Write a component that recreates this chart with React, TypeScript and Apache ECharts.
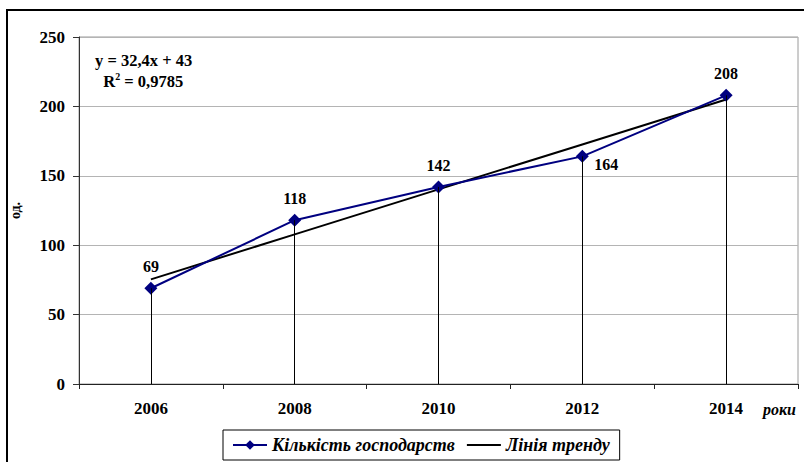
import React, { useEffect, useRef } from "react";
import * as echarts from "echarts";

const years = ["2006", "2008", "2010", "2012", "2014"];
const farms = [69, 118, 142, 164, 208];
const trendSlope = 32.4;
const trendIntercept = 43;
const trend = [75.4, 107.8, 140.2, 172.6, 205];
const yTicks = [0, 50, 100, 150, 200, 250];

const FONT = "'Liberation Serif', 'Times New Roman', serif";

export default function App() {
  const ref = useRef<HTMLDivElement>(null);
  useEffect(() => {
    if (!ref.current) return;
    const chart = echarts.init(ref.current, undefined, { renderer: "svg" });
    const dropLines = years.map((y, i) => [
      { coord: [y, 0] },
      { coord: [y, farms[i]] },
    ]);
    chart.setOption({
      animation: false,
      backgroundColor: "#fff",
      textStyle: { fontFamily: FONT },
      grid: {
        left: 78,
        top: 37,
        width: 720,
        height: 347,
        show: true,
        borderColor: "#9a9a9a",
        borderWidth: 1,
      },
      legend: {
        left: 223,
        top: 430,
        padding: [6, 10, 6, 9],
        borderColor: "#000",
        borderWidth: 1,
        itemWidth: 34,
        itemHeight: 12,
        itemGap: 12,
        textStyle: {
          fontFamily: FONT,
          fontStyle: "italic",
          fontWeight: "bold",
          fontSize: 18,
          color: "#000",
        },
        data: [
          { name: "Кількість господарств" },
          { name: "Лінія тренду", icon: "path://M0,5L34,5L34,7L0,7Z" },
        ],
      },
      xAxis: {
        type: "category",
        data: years,
        boundaryGap: true,
        axisLine: { lineStyle: { color: "#222", width: 1 } },
        axisTick: { show: true, length: 5, lineStyle: { color: "#222" } },
        axisLabel: {
          margin: 16,
          fontFamily: FONT,
          fontWeight: "bold",
          fontSize: 17,
          color: "#000",
        },
        splitLine: { show: false },
      },
      yAxis: {
        type: "value",
        min: yTicks[0],
        max: yTicks[yTicks.length - 1],
        interval: 50,
        name: "од.",
        nameLocation: "middle",
        nameGap: 57,
        nameRotate: 90,
        nameTextStyle: {
          fontFamily: FONT,
          fontWeight: "bold",
          fontSize: 14,
          color: "#000",
        },
        axisLine: { show: true, lineStyle: { color: "#333", width: 1 } },
        axisTick: { show: true, length: 6, lineStyle: { color: "#333" } },
        axisLabel: {
          margin: 14,
          fontFamily: FONT,
          fontWeight: "bold",
          fontSize: 17,
          color: "#000",
        },
        splitLine: { show: true, lineStyle: { color: "#b4b4b4", width: 1 } },
      },
      series: [
        {
          name: "Кількість господарств",
          type: "line",
          data: farms,
          symbol: "diamond",
          symbolSize: 13,
          z: 3,
          lineStyle: { color: "#000080", width: 2 },
          itemStyle: { color: "#000080" },
          label: {
            show: true,
            position: "top",
            distance: 7,
            fontFamily: FONT,
            fontWeight: "bold",
            fontSize: 16,
            color: "#000",
          },
          labelLayout: (p: any) =>
            p.dataIndex === 3 ? { dx: 24, dy: 30 } : {},
          markLine: {
            silent: true,
            symbol: "none",
            label: { show: false },
            lineStyle: { color: "#000", width: 1, type: "solid" },
            data: dropLines,
          },
        },
        {
          name: "Лінія тренду",
          type: "line",
          data: trend,
          symbol: "none",
          z: 2,
          lineStyle: { color: "#000", width: 2 },
          itemStyle: { color: "#000" },
        },
      ],
      graphic: [
        {
          type: "rect",
          shape: { x: 7, y: 10, width: 830, height: 480 },
          style: { fill: "none", stroke: "#000", lineWidth: 2 },
          silent: true,
        },
        {
          type: "text",
          left: 95,
          top: 50,
          style: {
            text:
              "y = " +
              String(trendSlope).replace(".", ",") +
              "x + " +
              trendIntercept +
              "\n  {b|R}{s|2}{b| = 0,9785}",
            fontFamily: FONT,
            fontWeight: "bold",
            fontSize: 16.5,
            lineHeight: 21,
            fill: "#000",
            rich: {
              b: { fontFamily: FONT, fontWeight: "bold", fontSize: 16.5, lineHeight: 21 },
              s: {
                fontFamily: FONT,
                fontWeight: "bold",
                fontSize: 10,
                verticalAlign: "top",
                padding: [0, 0, 8, 0],
                lineHeight: 21,
              },
            },
          },
        },
        {
          type: "text",
          left: 763,
          top: 401,
          style: {
            text: "роки",
            fontFamily: FONT,
            fontStyle: "italic",
            fontWeight: "bold",
            fontSize: 16,
            fill: "#000",
          },
        },
      ],
    });
    return () => chart.dispose();
  }, []);
  return (
    <div
      ref={ref}
      style={{ position: "fixed", left: 0, top: 0, width: 804, height: 462 }}
    />
  );
}
